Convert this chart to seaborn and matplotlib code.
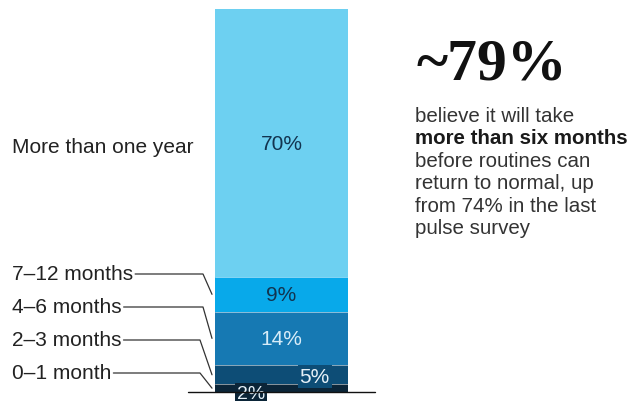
import numpy as np
import pandas as pd
import matplotlib
matplotlib.use("Agg")
import matplotlib.pyplot as plt
import matplotlib.transforms as mtransforms
import seaborn as sns

# =========================
# DATA
# =========================
categories = ["0–1 month", "2–3 months", "4–6 months", "7–12 months", "More than one year"]
shares = [2, 5, 14, 9, 70]
seg_labels = ["2%", "5%", "14%", "9%", "70%"]
colors = ["#0b2538", "#0d4d76", "#1679b3", "#08a9ea", "#6dd0f1"]
label_colors = ["#e6f1f8", "#e6f1f8", "#d7ecf8", "#123450", "#123450"]

df = pd.DataFrame({"category": categories, "share": shares})
df["top"] = df["share"].cumsum()
df["bottom"] = df["top"] - df["share"]
df["mid"] = (df["top"] + df["bottom"]) / 2
df["stack"] = "all"

sns.set_style("white")
plt.rcParams["font.family"] = ["Liberation Sans", "DejaVu Sans"]

W, H = 637, 402
fig = plt.figure(figsize=(W / 100, H / 100), dpi=100)

# bar axes placed in pixel space
x0, x1, ytop, ybot = 215, 348, 10, 393
ax = fig.add_axes([x0 / W, (H - ybot) / H, (x1 - x0) / W, (ybot - ytop) / H])

# stacked bar: draw cumulative heights from tallest down
for i in range(len(df) - 1, -1, -1):
    sns.barplot(data=df.iloc[[i]], x="stack", y="top", color=colors[i],
                width=1.0, saturation=1, ax=ax, linewidth=0)
ax.set_xlim(-0.5, 0.5)
ax.set_ylim(0, 100)
ax.axis("off")

# thin separators between segments
for b in df["bottom"][1:]:
    ax.axhline(b, color="white", lw=0.6, alpha=0.6)

# in-bar labels
for i, r in df.iterrows():
    if r["share"] >= 9:
        ax.text(0, r["mid"], seg_labels[i], ha="center", va="center",
                fontsize=15, color=label_colors[i])
ax.text(0.25, df["mid"][1] - 0.5, seg_labels[1], ha="center", va="center", fontsize=15,
        color=label_colors[1], clip_on=False,
        bbox=dict(boxstyle="square,pad=0.1", fc=colors[1], ec="none"))
ax.text(-0.23, df["bottom"][0] - 0.3, seg_labels[0], ha="center", va="center", fontsize=14,
        color=label_colors[0], clip_on=False,
        bbox=dict(boxstyle="square,pad=0.1", fc=colors[0], ec="none"))

# baseline
fig.add_artist(plt.Line2D([188 / W, 375 / W], [(H - 393) / H, (H - 393) / H],
                          color="#111111", lw=1.0))

# category labels with leader lines
pix = mtransforms.Affine2D().scale(1 / W, -1 / H).translate(0, 1) + fig.transFigure
fig.text(12, 148, categories[4], transform=pix, ha="left", va="center",
         fontsize=15, color="#222222")
label_y = [374, 341, 308, 275]
line_end = [200, 200, 203, 203]
fig.canvas.draw()
renderer = fig.canvas.get_renderer()
for i in range(4):
    t = fig.text(12, label_y[i], categories[i], transform=pix, ha="left", va="center",
                 fontsize=15, color="#222222")
    text_end = t.get_window_extent(renderer).x1 + 2
    # target point: left edge of bar at segment middle
    disp = ax.transData.transform((-0.5, df["mid"][i]))
    tx, ty = disp[0] - 3, H - disp[1]
    fig.add_artist(plt.Line2D([text_end, line_end[i], tx],
                              [label_y[i], label_y[i], ty],
                              transform=pix, color="#333333", lw=0.9))

# callout text on the right
fig.text(417, 66, "~79%", transform=pix, ha="left", va="center",
         fontsize=43, fontweight="bold", family=["Liberation Serif", "DejaVu Serif"],
         color="#111111")
lines = [("believe it will take", "normal"),
         ("more than six months", "bold"),
         ("before routines can", "normal"),
         ("return to normal, up", "normal"),
         ("from 74% in the last", "normal"),
         ("pulse survey", "normal")]
for k, (s, w) in enumerate(lines):
    fig.text(415, 116 + k * 22.6, s, transform=pix, ha="left", va="center",
             fontsize=14.8, fontweight=w, color="#1a1a1a" if w == "bold" else "#333333")

fig.savefig("out.png", dpi=100)
